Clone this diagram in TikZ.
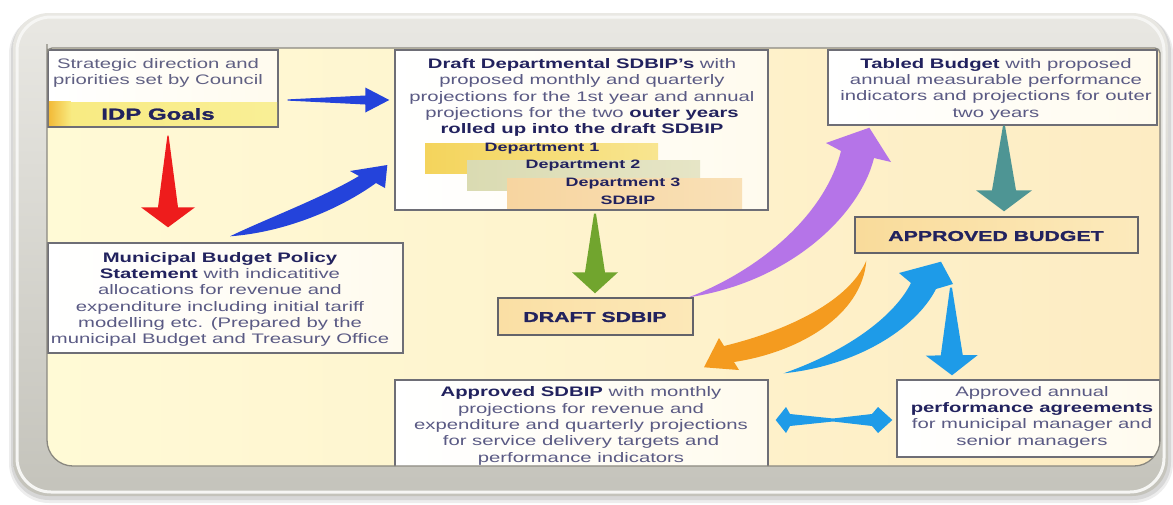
\documentclass[tikz,border=0pt]{standalone}
\usepackage{fontspec}
\setmainfont{Liberation Sans}[FakeStretch=1.47]
\newfontfamily\heavy{Liberation Sans Bold}[FakeStretch=1.5,FakeBold=1.5]
\usetikzlibrary{calc}
\definecolor{navy}{HTML}{22225E}
\definecolor{txtc}{HTML}{5A5A84}
\definecolor{boxline}{HTML}{6E6E76}
\definecolor{frametop}{HTML}{E9E8E3}
\definecolor{framebot}{HTML}{C4C3BB}
\definecolor{innerline}{HTML}{8A8880}
\definecolor{bgleft}{HTML}{FFFAD6}
\definecolor{bgright}{HTML}{FDECC3}
\definecolor{royal}{HTML}{2443DB}
\definecolor{sky}{HTML}{1E9BE8}
\definecolor{redA}{HTML}{EE1C1C}
\definecolor{greenA}{HTML}{71A52E}
\definecolor{tealA}{HTML}{4E9594}
\definecolor{violetA}{HTML}{B574E8}
\definecolor{orangeA}{HTML}{F49B1F}
\definecolor{boxR}{HTML}{FFFBEE}
\definecolor{idpL}{HTML}{F2BA38}
\definecolor{idpM}{HTML}{F8EA80}
\definecolor{idpR}{HTML}{F9EF96}
\definecolor{d1L}{HTML}{F4D45C}
\definecolor{d1R}{HTML}{F8E590}
\definecolor{d2L}{HTML}{DADBB2}
\definecolor{d2R}{HTML}{E6E5C6}
\definecolor{d3L}{HTML}{F7D5A0}
\definecolor{d3R}{HTML}{F9E0B6}
\definecolor{abL}{HTML}{F9DB9A}
\definecolor{abR}{HTML}{FCEABC}
\definecolor{dsL}{HTML}{FADFA4}
\definecolor{dsR}{HTML}{FCE8B8}
\newcommand\hb[1]{\textcolor{navy}{\bfseries #1}}
\newcommand\fatarrow[7]{% from, to, tail hw, shaft hw, head hw, head length, colour
  \coordinate (fa-h) at ($(#2)!#6!(#1)$);
  \fill[#7] ($(#1)!#3!90:(#2)$) -- ($(fa-h)!#4!90:(#2)$) -- ($(fa-h)!#5!90:(#2)$) -- (#2)
    -- ($(fa-h)!#5!-90:(#2)$) -- ($(fa-h)!#4!-90:(#2)$) -- ($(#1)!#3!-90:(#2)$) -- cycle;
}
\tikzset{
  box/.style={draw=boxline, line width=1.4pt, rectangle, inner sep=0pt, left color=white, right color=boxR},
  hbox/.style={draw=boxline!90!black, line width=1.4pt, rectangle, inner sep=0pt},
  bar/.style={rectangle, inner sep=0pt},
  body/.style={align=center, text=txtc, font=\fontsize{13.8}{16.3}\selectfont, inner sep=0pt},
  dept/.style={text=navy, font=\fontsize{12.2}{14}\selectfont\bfseries, inner sep=0pt},
  big/.style={text=navy, inner sep=0pt},
}
\begin{document}
\begin{tikzpicture}[x=1pt,y=-1pt]
\useasboundingbox (0,0) rectangle (1173,504);
\fill[white] (0,0) rectangle (1173,504);
% frame and shadow
\fill[black, opacity=0.07, rounded corners=40] (9,14) rectangle (1173,503);
\fill[black, opacity=0.09, rounded corners=38] (11,14) rectangle (1171,500);
\shade[rounded corners=36, top color=frametop, bottom color=framebot] (13,13) rectangle (1168,496);
\draw[white!60!frametop, line width=3pt, rounded corners=34] (17,17) rectangle (1164,492);
\def\innerpath{[rounded corners=5] (47,70) -- (47,48) -- (1160,48) [rounded corners=26] -- (1160,466) -- (47,466) -- cycle}
\begin{scope}
\path[clip] \innerpath;
\shade[left color=bgleft, right color=bgright] (40,40) rectangle (1170,470);

% boxes
\node[box, minimum width=230, minimum height=77] (stratbox) at (163,88.5) {};
\node[bar, minimum width=228, minimum height=23, fill=idpM, right color=idpR, left color=idpM] (idp) at (163,113.5) {};
\shade[left color=idpL, right color=idpM] (idp.south west) rectangle ($(idp.north west)+(22,0)$);
\node[big, font=\heavy\fontsize{16}{18}\selectfont] (idptxt) at (158,114) {IDP Goals};
\node[body, text=txtc!85!gray] (strattxt) at (158,73) {Strategic direction and\\priorities set by Council};

\node[box, minimum width=373, minimum height=160] (draft) at (581.5,130) {};
\node[body] (drafttxt) at (582,97.5) {\hb{Draft Departmental SDBIP's} with\\proposed monthly and quarterly\\projections for the 1st year and annual\\projections for the two \hb{outer years}\\\hb{rolled up into the draft SDBIP}};
\node[bar, minimum width=233, minimum height=30, left color=d1L, right color=d1R] (d1) at (541.5,158) {};
\node[bar, minimum width=233, minimum height=30, left color=d2L, right color=d2R] (d2) at (583.5,175) {};
\node[bar, minimum width=235, minimum height=30, left color=d3L, right color=d3R] (d3) at (624.5,193) {};
\node[dept] (d1t) at (542,149) {Department 1};
\node[dept] (d2t) at (583,166) {Department 2};
\node[dept] (d3t) at (623,184) {Department 3};
\node[dept] (d4t) at (628,200) {SDBIP};

\node[box, minimum width=329, minimum height=75] (tabled) at (992.5,87.5) {};
\node[body] (tabledtxt) at (996,89) {\hb{Tabled Budget} with proposed\\annual measurable performance\\indicators and projections for outer\\two years};

\node[hbox, minimum width=283, minimum height=36, left color=abL, right color=abR] (appbud) at (996.5,235) {};
\node[big, font=\heavy\fontsize{14.2}{16}\selectfont] (appbudtxt) at (996,236) {APPROVED BUDGET};

\node[box, minimum width=355, minimum height=110] (mbps) at (225.5,298) {};
\node[body] (mbpstxt) at (220,299.5) {\hb{Municipal Budget Policy}\\\hb{Statement} with indicatitive\\allocations for revenue and\\expenditure including initial tariff\\modelling etc. (Prepared by the\\municipal Budget and Treasury Office};

\node[hbox, minimum width=195, minimum height=37, left color=dsL, right color=dsR] (dsdbip) at (595.5,316.5) {};
\node[big, font=\heavy\fontsize{14.2}{16}\selectfont] (dsdbiptxt) at (595,317) {DRAFT SDBIP};

\node[box, minimum width=373, minimum height=95] (asdbip) at (581.5,427.5) {};
\node[body] (asdbiptxt) at (581,426) {\hb{Approved SDBIP} with monthly\\projections for revenue and\\expenditure and quarterly projections\\for service delivery targets and\\performance indicators};

\node[box, minimum width=263, minimum height=77] (perf) at (1028.5,418.5) {};
\node[body] (perftxt) at (1032,417) {Approved annual\\\hb{performance agreements}\\for municipal manager and\\senior managers};

% straight block arrows
\coordinate (b1s) at ($(stratbox.east)+(9,11.5)$);
\coordinate (b1e) at ($(draft.west)+(-5,-30)$);
\fatarrow{b1s}{b1e}{0.6pt}{4.5pt}{12.5pt}{24pt}{royal}
\coordinate (rs) at ($(stratbox.south)+(5,8)$);
\coordinate (re) at ($(mbps.north)+(-57.5,-15)$);
\fatarrow{rs}{re}{0.6pt}{10pt}{27pt}{20pt}{redA}
\coordinate (gs) at ($(draft.south)+(13.5,3)$);
\coordinate (ge) at ($(dsdbip.north)+(-0.5,-4)$);
\fatarrow{gs}{ge}{1pt}{10pt}{23pt}{21pt}{greenA}
\coordinate (ts) at ($(tabled.south)+(11.5,0)$);
\coordinate (te) at ($(appbud.north)+(7.5,-5)$);
\fatarrow{ts}{te}{1pt}{12pt}{28pt}{21pt}{tealA}
\coordinate (ls) at ($(appbud.south)+(-45.5,34)$);
\coordinate (le) at ($(perf.north)+(-76.5,-4)$);
\fatarrow{ls}{le}{1pt}{11pt}{26pt}{20pt}{sky}

% curved block arrows
\coordinate (bct) at ($(mbps.north)+(4.5,-6)$);
\coordinate (bch) at ($(draft.west)+(-7,35)$);
\fill[royal] (bct) .. controls (268,218) and (322,198) .. (359,176) -- (350,171) -- (bch) -- (385,188) -- (376,183) .. controls (343,207) and (288,232) .. (bct) -- cycle;

\coordinate (pt) at ($(dsdbip.north east)+(-5,0)$);
\coordinate (ph) at ($(tabled.south west)+(42,2)$);
\fill[violetA] (pt) .. controls (760,270) and (825,215) .. (841,151) -- (826,143) -- (ph) -- (891,162) -- (874,158) .. controls (860,215) and (790,282) .. (pt) -- cycle;

\coordinate (ot) at ($(appbud.south west)+(12,7)$);
\coordinate (oh) at ($(asdbip.north)+(122.5,-12)$);
\fill[orangeA] (ot) .. controls (850,300) and (790,330) .. (724,346) -- (719,338) -- (oh) -- (739,370) -- (734,362) .. controls (800,352) and (862,315) .. (ot) -- cycle;

\coordinate (ct) at ($(asdbip.north east)+(15,-6)$);
\coordinate (ch) at ($(appbud.south)+(-55.5,8)$);
\fill[sky] (ct) .. controls (850,350) and (895,315) .. (911,283) -- (899,273) -- (ch) -- (953,284) -- (936,289) .. controls (915,330) and (855,366) .. (ct) -- cycle;

% double arrow
\coordinate (dl) at ($(asdbip.east)+(7,-7.5)$);
\coordinate (dr) at ($(perf.west)+(-4,1.5)$);
\fill[sky] (dl) -- (786,407) -- (790,414) -- (833,418.5) -- (872,414) -- (878,407) -- (dr) -- (878,433) -- (872,426) -- (833,421.5) -- (790,426) -- (786,433) -- cycle;
\end{scope}
\draw[innerline, line width=1.3pt] \innerpath;
\end{tikzpicture}
\end{document}
